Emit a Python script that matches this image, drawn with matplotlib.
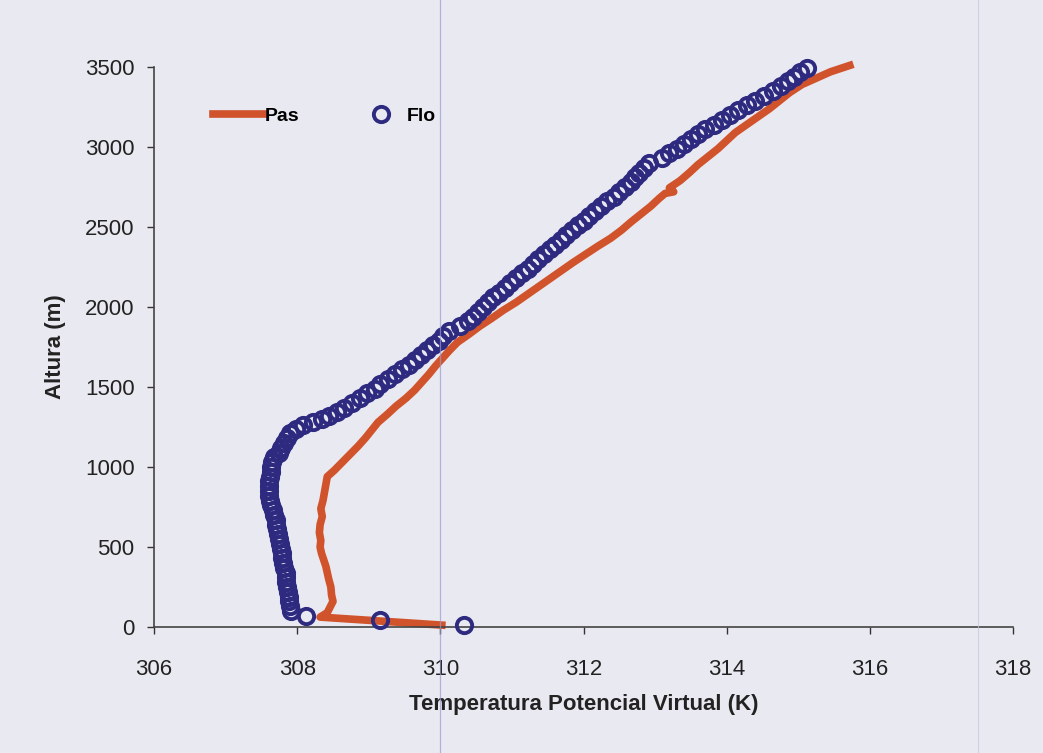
import numpy as np
import matplotlib.pyplot as plt
from matplotlib.lines import Line2D

# Perfil "Pas" (linea naranja): temperatura potencial virtual (K) y altura (m)
pas_temp = [310.02, 308.32, 308.42, 308.46, 308.50, 308.48, 308.47, 308.44, 308.42,
            308.40, 308.37, 308.34, 308.32, 308.33, 308.31, 308.32, 308.35, 308.33,
            308.36, 308.38, 308.40, 308.42, 308.52, 308.63, 308.74, 308.85, 308.95,
            309.04, 309.13, 309.26, 309.38, 309.52, 309.64, 309.74, 309.84, 309.93,
            310.03, 310.13, 310.24, 310.40, 310.55, 310.72, 310.88, 311.06, 311.22,
            311.38, 311.54, 311.70, 311.86, 312.03, 312.20, 312.38, 312.53, 312.66,
            312.80, 312.94, 313.06, 313.14, 313.26, 313.20, 313.35, 313.48, 313.60,
            313.74, 313.88, 314.00, 314.12, 314.28, 314.44, 314.60, 314.74, 314.88,
            315.05, 315.25, 315.45, 315.72]
pas_alt = [12, 62, 90, 125, 160, 200, 250, 300, 340,
           380, 420, 460, 500, 540, 590, 640, 690, 740,
           790, 840, 890, 940, 980, 1030, 1080, 1130, 1180,
           1230, 1280, 1330, 1380, 1430, 1480, 1530, 1580, 1630,
           1680, 1730, 1780, 1830, 1880, 1930, 1980, 2030, 2080,
           2130, 2180, 2230, 2280, 2330, 2380, 2430, 2480, 2530,
           2580, 2630, 2680, 2710, 2720, 2745, 2790, 2840, 2890,
           2940, 2990, 3040, 3090, 3140, 3190, 3240, 3290, 3340,
           3390, 3430, 3470, 3510]

# Perfil "Flo" (circulos azules)
flo_temp = [310.33, 309.15, 308.12, 307.92, 307.90, 307.88, 307.88, 307.87, 307.86,
            307.85, 307.84, 307.84, 307.82, 307.80, 307.79, 307.79, 307.77, 307.76,
            307.75, 307.73, 307.72, 307.70, 307.70, 307.68, 307.66, 307.64, 307.62,
            307.61, 307.60, 307.60, 307.61, 307.62, 307.63, 307.64, 307.65, 307.68,
            307.74, 307.78, 307.82, 307.86, 307.90, 307.98, 308.08, 308.22, 308.35,
            308.45, 308.56, 308.66, 308.76, 308.88, 308.98, 309.08, 309.16, 309.27,
            309.37, 309.47, 309.56, 309.65, 309.73, 309.82, 309.90, 309.98, 310.04,
            310.12, 310.28, 310.38, 310.45, 310.52, 310.60, 310.67, 310.74, 310.82,
            310.90, 310.98, 311.06, 311.14, 311.22, 311.30, 311.37, 311.45, 311.53,
            311.60, 311.68, 311.76, 311.84, 311.92, 312.00, 312.08, 312.16, 312.25,
            312.33, 312.42, 312.50, 312.58, 312.66, 312.72, 312.78, 312.84, 312.92,
            313.10, 313.20, 313.30, 313.40, 313.50, 313.60, 313.70, 313.82, 313.94,
            314.05, 314.16, 314.28, 314.40, 314.52, 314.65, 314.76, 314.86, 314.94,
            315.02, 315.12]
flo_alt = [15, 45, 70, 100, 130, 160, 190, 220, 250,
           280, 310, 340, 370, 400, 430, 460, 490, 520,
           550, 580, 610, 640, 670, 700, 730, 760, 790,
           820, 850, 880, 910, 940, 970, 1000, 1030, 1060,
           1090, 1120, 1150, 1180, 1210, 1240, 1260, 1280, 1300,
           1320, 1345, 1370, 1400, 1430, 1460, 1490, 1520, 1550,
           1580, 1610, 1640, 1670, 1700, 1730, 1760, 1790, 1820,
           1850, 1880, 1910, 1940, 1970, 2000, 2030, 2060, 2090,
           2120, 2150, 2180, 2210, 2240, 2270, 2300, 2330, 2360,
           2390, 2420, 2450, 2480, 2510, 2540, 2570, 2600, 2630,
           2660, 2690, 2720, 2750, 2780, 2810, 2840, 2870, 2900,
           2930, 2960, 2990, 3020, 3050, 3080, 3110, 3140, 3170,
           3200, 3230, 3260, 3290, 3320, 3350, 3380, 3410, 3440,
           3470, 3495]

xticks = [306, 308, 310, 312, 314, 316, 318]
yticks = [0, 500, 1000, 1500, 2000, 2500, 3000, 3500]

fondo = '#e9e9f1'
naranja = '#d0532c'
azul = '#2e2a80'

plt.rcParams['font.family'] = ['Liberation Sans', 'DejaVu Sans']

fig = plt.figure(figsize=(10.43, 7.53), dpi=100, facecolor=fondo)
ax = fig.add_axes([0.1477, 0.1673, 0.8235, 0.7437], facecolor=fondo)

ax.plot(pas_temp, pas_alt, color=naranja, lw=5.5, label='Pas', zorder=2,
        solid_joinstyle='round', clip_on=False)
ax.plot(flo_temp, flo_alt, ls='none', marker='o', ms=11, mfc='none', mec=azul,
        mew=2.8, label='Flo', zorder=3, clip_on=False)

ax.set_xlim(306, 318)
ax.set_ylim(0, 3500)
ax.set_xticks(xticks)
ax.set_yticks(yticks)
ax.tick_params(axis='both', direction='out', length=5, width=1, colors='#333333',
               labelsize=16, labelcolor='#222222')
ax.tick_params(axis='x', pad=18)
ax.tick_params(axis='y', pad=9)

for s in ['top', 'right']:
    ax.spines[s].set_visible(False)
for s in ['left', 'bottom']:
    ax.spines[s].set_color('#444444')
    ax.spines[s].set_linewidth(1.2)

ax.set_xlabel('Temperatura Potencial Virtual (K)', fontsize=16, fontweight='bold',
              color='#222222', labelpad=10)
ax.set_ylabel('Altura (m)', fontsize=16, fontweight='bold', color='#222222',
              labelpad=14)

leg = ax.legend(loc='upper left', bbox_to_anchor=(0.048, 0.96), ncol=2, frameon=False,
                prop={'weight': 'bold', 'size': 14}, handlelength=2.6,
                handletextpad=0.05, columnspacing=2.9)

# rayas del escaneo original
fig.add_artist(Line2D([440 / 1043, 440 / 1043], [0, 1], color='#9a9ad8', lw=0.9,
                      alpha=0.7))
fig.add_artist(Line2D([978 / 1043, 978 / 1043], [0, 1], color='#c8c8e0', lw=0.8,
                      alpha=0.7))

fig.savefig('out.png', dpi=100, facecolor=fondo)
